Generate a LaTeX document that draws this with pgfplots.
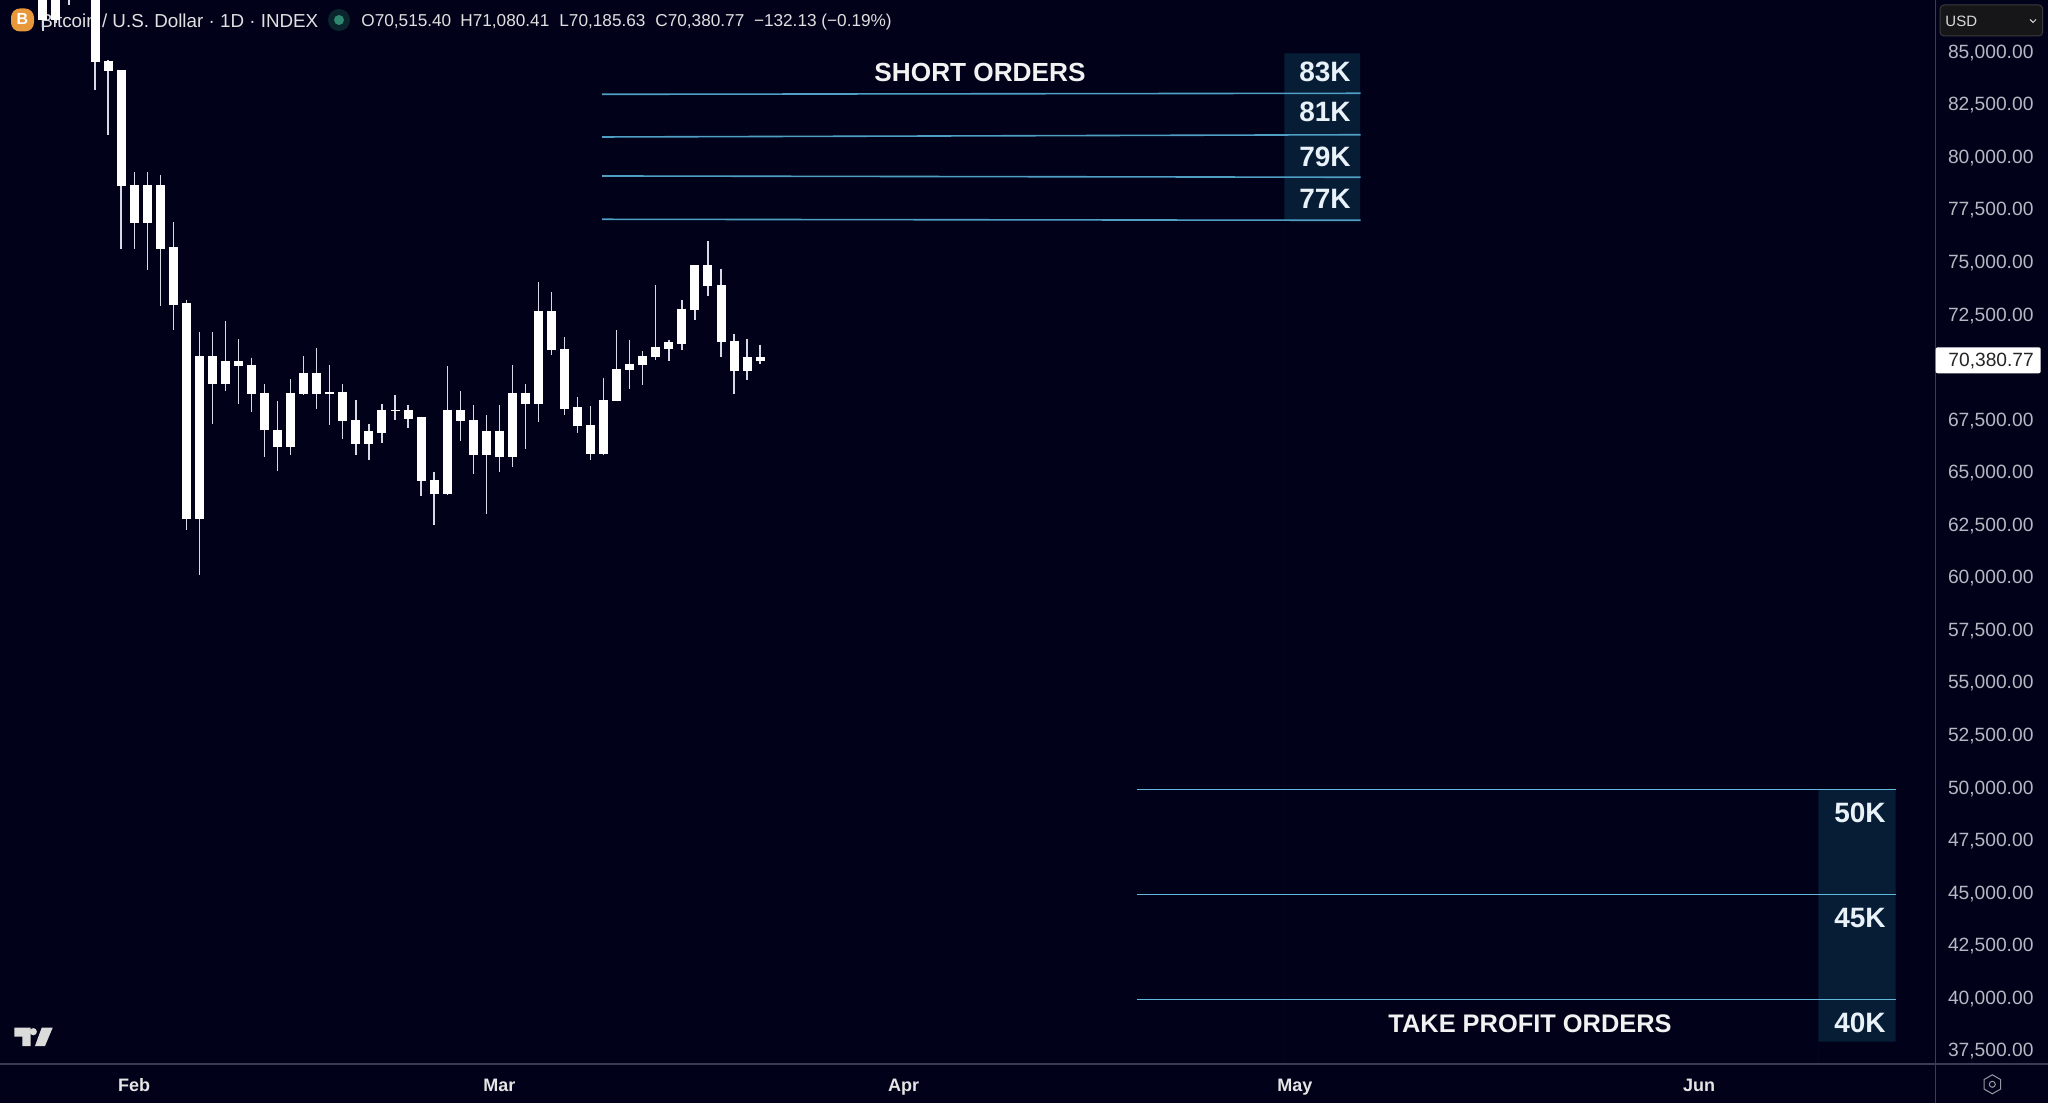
\documentclass[border=0pt]{standalone}
\usepackage{fontspec}
\setmainfont{Liberation Sans}
\usepackage{pgfplots}
\usepackage{pgfplotstable}
\pgfplotsset{compat=1.18}
\definecolor{bg}{HTML}{01021A}
\definecolor{wick}{HTML}{D6D9E4}
\definecolor{ticktxt}{HTML}{B6B8C2}
\definecolor{axisln}{HTML}{3B3C58}
\definecolor{boxc}{HTML}{071D36}
\definecolor{lvl}{HTML}{4F9FC4}
\definecolor{lvlb}{HTML}{62B8DC}
\definecolor{lbl}{HTML}{E8F2F8}
\newcommand{\hdr}[2]{\node[anchor=base west,inner sep=0,text=white!88!black,font=\fontsize{8.6}{8.6}\selectfont] at (#1,27) {#2};}
\newcommand{\lab}[3]{\node[anchor=base east,inner sep=0,text=lbl,font=\fontsize{14}{14}\selectfont\bfseries] at (#1,#2) {#3};}
\pgfplotstableread{
i a b h l
-7 88500 86499 89000 85975
-6 88500 86499 89000 86356
-5 88500 87800 89000 87212
-3 88500 84501 89000 83169
-2 84548 84072 84596 81028
-1 84120 78602 84120 75605
0 78650 76842 79268 75605
1 78650 76842 79268 74606
2 78650 75605 79125 72893
3 75700 72941 76875 71752
4 73022 62775 73179 62238
5 70500 62775 71671 60097
6 70500 69197 71642 67294
7 70263 69197 72166 68850
8 70263 70025 71323 68246
9 70087 68722 70434 67837
10 68769 67000 69183 65696
11 66995 66172 68360 65030
12 68769 66172 69421 65806
13 69721 68722 70500 68660
14 69721 68722 70910 68008
15 68817 68722 70087 67233
16 68817 67408 69183 66581
17 67471 66343 68422 65806
18 66933 66343 67280 65568
19 67946 66867 68232 66391
20 67946 67885 68660 67471
21 67946 67532 68184 67104
22 67599 64554 67627 63841
23 64616 63965 64983 62476
24 67946 63965 70025 63902
25 67946 67408 68836 66458
26 67471 65806 68184 64916
27 66933 65806 67708 63014
28 66933 65696 68184 64983
29 68769 65696 70087 65220
30 68769 68246 69197 66105
31 72641 68246 74021 67361
32 72641 70800 73545 70563
33 70848 68008 71404 67708
34 68075 67171 68550 66867
35 67233 65868 68122 65568
36 68422 65868 69483 65806
37 69911 68360 71752 68360
38 70149 69849 71276 68960
39 70500 70087 70739 69135
40 70929 70453 73893 70325
41 71167 70862 71276 70263
42 72765 71100 73179 70800
43 74844 72703 74844 72228
44 74844 73831 75971 73355
45 73893 71167 74668 70453
46 71214 69787 71576 68722
47 70453 69787 71338 69373
48 70453 70263 71057 70150
}\candles
\begin{document}
\begin{tikzpicture}
\useasboundingbox (0,0) rectangle (1024pt,551.5pt);
\fill[bg] (0,0) rectangle (1024pt,551.5pt);
% header, under the candles
\begin{scope}[shift={(0,551.5pt)},x=0.5pt,y=-0.5pt]
\fill[rounded corners=4.5pt,color={rgb,255:red,232;green,152;blue,58}] (11,8.5) rectangle (34,31.5);
\node[anchor=base,inner sep=0,text=white,font=\fontsize{8}{8}\selectfont\bfseries] at (22.5,25) {B};
\node[anchor=base west,inner sep=0,text=white!88!black,font=\fontsize{9.4}{9.4}\selectfont] at (40,28) {Bitcoin / U.S. Dollar · 1D · INDEX};
\fill[color={rgb,255:red,10;green,38;blue,44}] (339,20) circle[radius=5.5pt];
\fill[color={rgb,255:red,48;green,135;blue,112}] (339,20) circle[radius=2.5pt];
\hdr{361}{O70,515.40}
\hdr{460}{H71,080.41}
\hdr{559}{L70,185.63}
\hdr{655}{C70,380.77}
\hdr{753.6}{−132.13 (−0.19\%)}
\end{scope}
\begin{axis}[
  at={(0pt,19.5pt)},anchor=south west,
  scale only axis,width=968pt,height=532pt,
  xmin=-10.29,xmax=138.17,ymin=36835,ymax=87450,
  axis line style={draw=none},
  major tick length=0pt,
  xtick={0,28,59,89,120},
  xticklabels={Feb,Mar,Apr,May,Jun},
  xticklabel style={text=white!90!black,inner sep=0pt,anchor=base,yshift=-13.8pt,font=\fontsize{9}{9}\selectfont\bfseries},
  ytick={37500,40000,42500,45000,47500,50000,52500,55000,57500,60000,62500,65000,67500,72500,75000,77500,80000,82500,85000},
  yticklabel pos=right,
  scaled y ticks=false,
  yticklabel style={text=ticktxt,inner sep=0pt,anchor=base west,xshift=5.8pt,yshift=-3.4pt,font=\fontsize{9.6}{9.6}\selectfont,
    /pgf/number format/.cd,fixed,fixed zerofill,precision=2,1000 sep={,},assume math mode=true},
]
% label panels
\addplot[fill=boxc,draw=none,forget plot] coordinates {(88.2,84915) (94.0,84915) (94.0,76985) (88.2,76985)} \closedcycle;
\addplot[fill=boxc,draw=none,forget plot] coordinates {(129.15,49900) (135.08,49900) (135.08,37896) (129.15,37896)} \closedcycle;
% levels
\addplot[lvl,line width=0.8pt] coordinates {(35.89,82964) (94.05,83012)};
\addplot[lvl,line width=0.8pt] coordinates {(35.89,80933) (94.05,81040)};
\addplot[lvl,line width=0.8pt] coordinates {(35.89,79078) (94.05,79017)};
\addplot[lvl,line width=0.8pt] coordinates {(35.89,77018) (94.05,76970)};
\addplot[lvlb,line width=0.7pt] coordinates {(76.93,49903) (135.08,49903)};
\addplot[lvlb,line width=0.7pt] coordinates {(76.93,44908) (135.08,44908)};
\addplot[lvlb,line width=0.7pt] coordinates {(76.93,39913) (135.08,39913)};
% wicks
\addplot[draw=none,mark=none,error bars/.cd,y dir=minus,y explicit,error mark=none,
  error bar style={line width=0.65pt,draw=wick}]
  table[x=i,y=h,y error minus expr=\thisrow{h}-\thisrow{l}] {\candles};
% bodies
\addplot[draw=none,mark=none,error bars/.cd,y dir=minus,y explicit,error mark=none,
  error bar style={line width=4.5pt,draw=white}]
  table[x=i,y=a,y error minus expr=\thisrow{a}-\thisrow{b}] {\candles};
\end{axis}
\begin{scope}[shift={(0,551.5pt)},x=0.5pt,y=-0.5pt]
\draw[axisln,line width=0.6pt] (0,1064) -- (2048,1064);
\draw[axisln,line width=0.6pt] (1935.7,0) -- (1935.7,1103);
% annotations
\node[anchor=base,inner sep=0,text=white!95!black,font=\fontsize{13.1}{13.1}\selectfont\bfseries] at (980,82) {SHORT ORDERS};
\node[anchor=base,inner sep=0,text=white!95!black,font=\fontsize{12.7}{12.7}\selectfont\bfseries] at (1530,1032) {TAKE PROFIT ORDERS};
\lab{1351}{82}{83K}
\lab{1351}{121.2}{81K}
\lab{1351}{166.2}{79K}
\lab{1351}{208.8}{77K}
\lab{1886}{822.8}{50K}
\lab{1886}{927.8}{45K}
\lab{1886}{1032.8}{40K}
% last price
\fill[white,rounded corners=1pt] (1935.7,347.3) rectangle (2040.7,373.3);
\node[anchor=base west,inner sep=0,text=black!85,font=\fontsize{9.6}{9.6}\selectfont] at (1948,367) {70,380.77};
% currency box
\fill[color={rgb,255:red,22;green,22;blue,24},rounded corners=2pt] (1940,5) rectangle (2042.7,36);
\draw[color={rgb,255:red,58;green,58;blue,62},line width=0.5pt,rounded corners=2pt] (1940,5) rectangle (2042.7,36);
\node[anchor=base west,inner sep=0,text=white!85!black,font=\fontsize{7.5}{7.5}\selectfont] at (1945,27) {USD};
\draw[white!85!black,line width=0.5pt] (2030,19.5) -- (2033,22.5) -- (2036,19.5);
% logo
\fill[white!86!black] (14.3,1027.7) -- (30.7,1027.7) -- (30.7,1046) -- (22.3,1046) -- (22.3,1036.7) -- (14.3,1036.7) -- cycle;
\fill[white!86!black] (33.3,1031.7) circle[radius=1.8pt];
\fill[white!86!black] (41.7,1027.7) -- (52.7,1027.7) -- (45,1046) -- (35,1046) -- cycle;
% settings icon
\draw[color={rgb,255:red,150;green,152;blue,162},line width=0.5pt] (1992.3,1074.8) -- (2000.5,1079.5) -- (2000.5,1089.1) -- (1992.3,1093.8) -- (1984.1,1089.1) -- (1984.1,1079.5) -- cycle;
\draw[color={rgb,255:red,150;green,152;blue,162},line width=0.5pt] (1992.3,1084.3) circle[radius=1.5pt];
\end{scope}
\end{tikzpicture}
\end{document}
